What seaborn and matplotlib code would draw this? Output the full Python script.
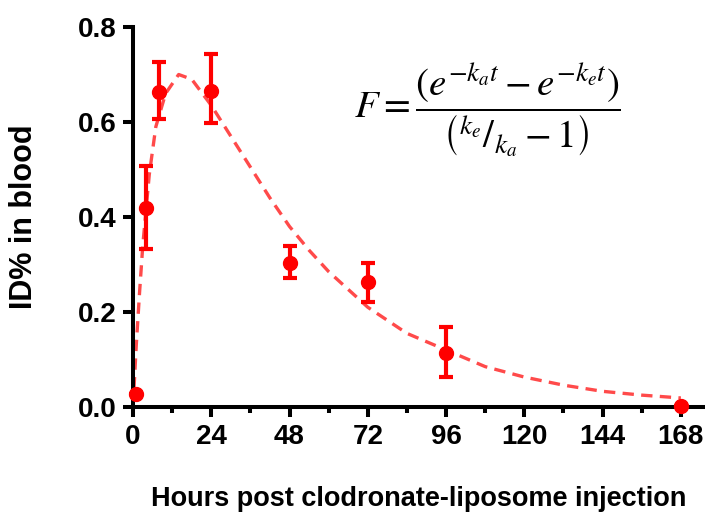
import numpy as np
import pandas as pd
import matplotlib
matplotlib.use("Agg")
import matplotlib.pyplot as plt
import seaborn as sns

# measured points (mean +/- error)
hours = [1, 4, 8, 24, 48, 72, 96, 168]
id_pct = [0.027, 0.419, 0.663, 0.665, 0.303, 0.263, 0.114, 0.002]
err_up = [0.0, 0.088, 0.063, 0.078, 0.036, 0.040, 0.054, 0.0]
err_lo = [0.0, 0.087, 0.057, 0.067, 0.031, 0.042, 0.051, 0.0]

# fitted curve
fit_t = [0, 1, 2, 3, 5, 7, 10, 14, 18, 24, 30, 36, 42, 48, 54, 60, 72, 84, 96,
         108, 120, 132, 144, 156, 168]
fit_y = [0.0, 0.13, 0.24, 0.34, 0.49, 0.59, 0.66, 0.70, 0.69, 0.635, 0.57, 0.505,
         0.44, 0.38, 0.33, 0.285, 0.21, 0.155, 0.12, 0.085, 0.063, 0.046, 0.033,
         0.025, 0.019]

x_ticks = [0, 24, 48, 72, 96, 120, 144, 168]
y_ticks = [0.0, 0.2, 0.4, 0.6, 0.8]

sns.set_style("ticks")
plt.rcParams['font.family'] = ['Liberation Sans', 'DejaVu Sans']
plt.rcParams['mathtext.fontset'] = 'stix'
plt.rcParams['text.color'] = 'black'
plt.rcParams['axes.labelcolor'] = 'black'
plt.rcParams['xtick.color'] = 'black'
plt.rcParams['ytick.color'] = 'black'

fig = plt.figure(figsize=(7.05, 5.12), dpi=100)
ax = fig.add_axes([133 / 705, 105 / 512, 1 - 133 / 705, 380 / 512])

curve = pd.DataFrame({"t": fit_t, "y": fit_y})
sns.lineplot(data=curve, x="t", y="y", ax=ax, color="#ff4a4a", lw=2.4,
             linestyle=(0, (3.4, 2.2)), zorder=2)

ax.errorbar(hours, id_pct, yerr=[err_lo, err_up], fmt="o", color="#ff0000",
            ms=10, elinewidth=3, capsize=5, capthick=3, clip_on=False, zorder=3)

ax.set_xlim(0, 175.4)
ax.set_ylim(0, 0.8)
ax.set_xticks(x_ticks)
ax.set_xticks(np.arange(12, 175, 24), minor=True)
ax.set_yticks(y_ticks)
ax.set_yticklabels([f"{v:.1f}" for v in y_ticks])

for side in ["top", "right"]:
    ax.spines[side].set_visible(False)
for side in ["left", "bottom"]:
    ax.spines[side].set_linewidth(2.9)
    ax.spines[side].set_color("black")

ax.tick_params(axis="both", which="major", length=7, width=2.9, color="black",
               labelcolor="black", labelsize=20, pad=5)
ax.tick_params(axis="x", which="minor", length=4.3, width=2.9, color="black")
for lab in ax.get_xticklabels() + ax.get_yticklabels():
    lab.set_fontweight("bold")

ax.set_xlabel("Hours post clodronate-liposome injection", fontsize=19.5,
              fontweight="bold", labelpad=26, color="black")
ax.set_ylabel("ID% in blood", fontsize=22, fontweight="bold", labelpad=28,
              color="black")

ax.text(0.619, 0.78,
        r"$F=\dfrac{\left(e^{-k_a t}-e^{-k_e t}\right)}"
        r"{\left({}^{k_e}/_{k_a}-1\right)}$",
        transform=ax.transAxes, fontsize=28, ha="center", va="center",
        color="black")

fig.savefig("out.png", dpi=100)
